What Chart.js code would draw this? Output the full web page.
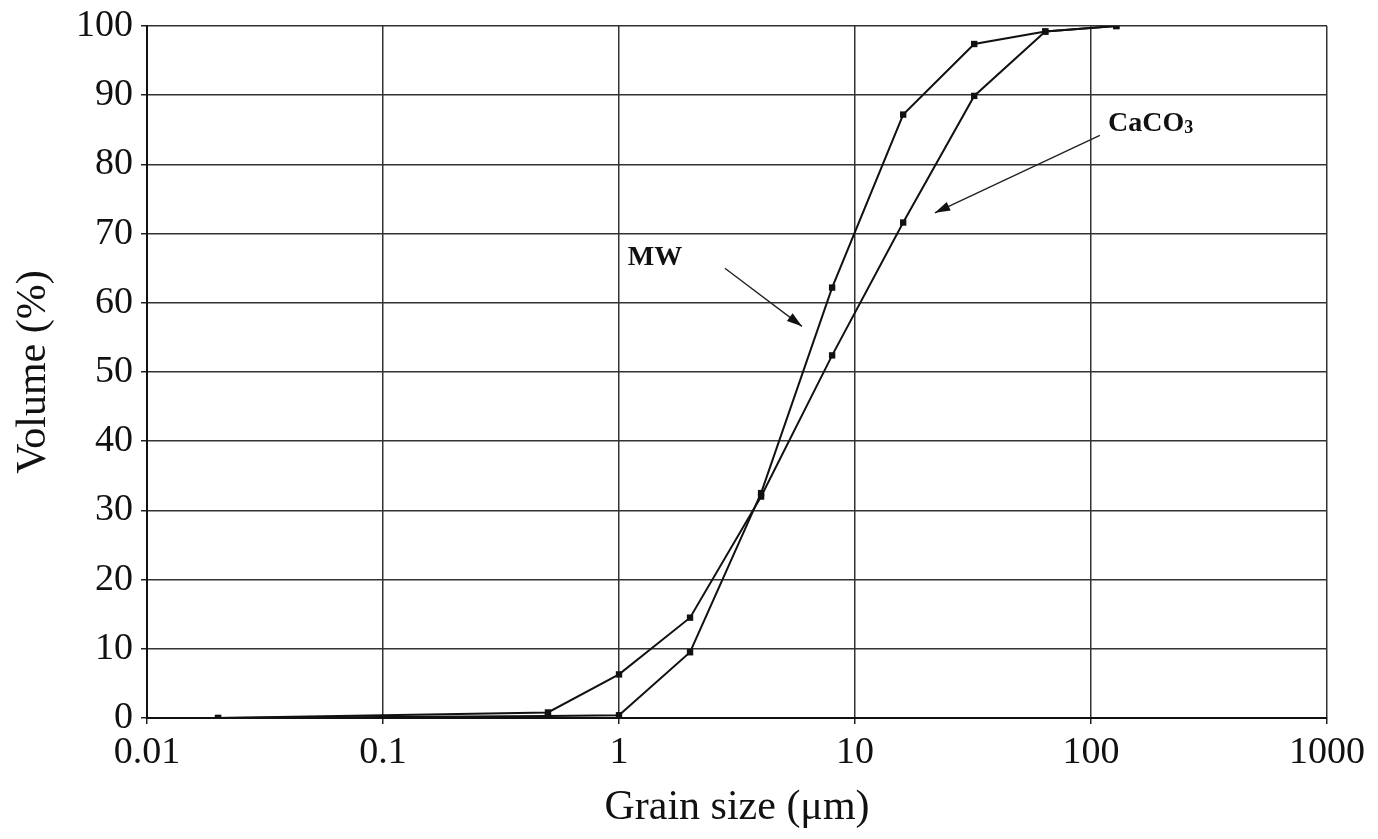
<!DOCTYPE html>
<html>
<head>
<meta charset="utf-8">
<script src="https://cdn.jsdelivr.net/npm/chart.js@4/dist/chart.umd.min.js"></script>
<style>
html,body{margin:0;padding:0;background:#fff;}
#wrap{width:1378px;height:839px;}
</style>
</head>
<body>
<div id="wrap"><canvas id="c" width="1378" height="839"></canvas></div>
<script>
const grainSizes = [0.02, 0.5, 1, 2, 4, 8, 16, 32, 64, 128];
const mwVolume = [0, 0.3, 0.4, 9.5, 32.5, 62.2, 87.2, 97.4, 99.2, 100];
const caco3Volume = [0, 0.8, 6.3, 14.5, 32, 52.4, 71.6, 89.9, 99.2, 100];
const xTickValues = [0.01, 0.1, 1, 10, 100, 1000];
const xTickLabels = ['0.01', '0.1', '1', '10', '100', '1000'];
const yTickValues = [0, 10, 20, 30, 40, 50, 60, 70, 80, 90, 100];

const annotations = [
  {text: 'MW', x: 1.09, y: 66.5, ax0: 2.81, ay0: 65.0, ax1: 5.96, ay1: 56.6},
  {text: 'CaCO', sub: '3', x: 118, y: 85.8, ax0: 109, ay0: 84.2, ax1: 21.8, ay1: 73.0}
];

const serif = '"Liberation Serif", "DejaVu Serif", serif';

function toPoints(vals){ return grainSizes.map((g,i)=>({x:g, y:vals[i]})); }

const annotPlugin = {
  id: 'annot',
  afterDatasetsDraw(chart){
    const ctx = chart.ctx, xs = chart.scales.x, ys = chart.scales.y;
    ctx.save();
    annotations.forEach(a=>{
      const tx = xs.getPixelForValue(a.x), ty = ys.getPixelForValue(a.y);
      ctx.fillStyle = '#111';
      ctx.font = 'bold 28px ' + serif;
      ctx.textBaseline = 'middle';
      ctx.textAlign = 'left';
      ctx.fillText(a.text, tx, ty);
      if (a.sub){
        const w = ctx.measureText(a.text).width;
        ctx.font = 'bold 18px ' + serif;
        ctx.fillText(a.sub, tx + w, ty + 4);
      }
      const x0 = xs.getPixelForValue(a.ax0), y0 = ys.getPixelForValue(a.ay0);
      const x1 = xs.getPixelForValue(a.ax1), y1 = ys.getPixelForValue(a.ay1);
      ctx.strokeStyle = '#222';
      ctx.lineWidth = 1.4;
      ctx.beginPath(); ctx.moveTo(x0,y0); ctx.lineTo(x1,y1); ctx.stroke();
      const ang = Math.atan2(y1-y0, x1-x0), L = 16, W = 0.3;
      ctx.beginPath();
      ctx.moveTo(x1,y1);
      ctx.lineTo(x1 - L*Math.cos(ang-W), y1 - L*Math.sin(ang-W));
      ctx.lineTo(x1 - L*Math.cos(ang+W), y1 - L*Math.sin(ang+W));
      ctx.closePath();
      ctx.fillStyle = '#111';
      ctx.fill();
    });
    ctx.restore();
  }
};

const lineStyle = {
  borderColor: '#111',
  backgroundColor: '#111',
  borderWidth: 2,
  pointStyle: 'rect',
  pointRadius: 4.5,
  pointBorderWidth: 0,
  showLine: true,
  tension: 0
};

new Chart(document.getElementById('c'), {
  type: 'scatter',
  data: {
    datasets: [
      Object.assign({label: 'MW', data: toPoints(mwVolume)}, lineStyle),
      Object.assign({label: 'CaCO3', data: toPoints(caco3Volume)}, lineStyle)
    ]
  },
  plugins: [annotPlugin],
  options: {
    responsive: false,
    animation: false,
    layout: {padding: {left: 0, right: 51, top: 26, bottom: 0}},
    plugins: {legend: {display: false}, tooltip: {enabled: false}},
    scales: {
      x: {
        type: 'logarithmic',
        min: 0.01, max: 1000,
        afterBuildTicks(s){ s.ticks = xTickValues.map(v=>({value:v})); },
        afterFit(s){ s.height = 121; s.paddingLeft = 0; s.paddingRight = 0; },
        ticks: {
          autoSkip: false, maxRotation: 0,
          color: '#111', padding: 6,
          font: {family: serif, size: 38},
          callback(v){ const i = xTickValues.indexOf(v); return i >= 0 ? xTickLabels[i] : ''; }
        },
        grid: {color: '#333', lineWidth: 1.5, tickLength: 6, tickColor: '#222'},
        border: {color: '#111', width: 2},
        title: {display: true, text: 'Grain size (μm)', color: '#111',
          font: {family: serif, size: 42}, padding: {top: 4, bottom: 6}}
      },
      y: {
        min: 0, max: 100,
        afterBuildTicks(s){ s.ticks = yTickValues.map(v=>({value:v})); },
        afterFit(s){ s.width = 147; s.paddingTop = 0; s.paddingBottom = 0; },
        ticks: {color: '#111', padding: 8, font: {family: serif, size: 38}},
        grid: {color: '#333', lineWidth: 1.5, tickLength: 6, tickColor: '#222'},
        border: {color: '#111', width: 2},
        title: {display: true, text: 'Volume (%)', color: '#111',
          font: {family: serif, size: 42}, padding: {top: 9, bottom: 0}}
      }
    }
  }
});
</script>
</body>
</html>
